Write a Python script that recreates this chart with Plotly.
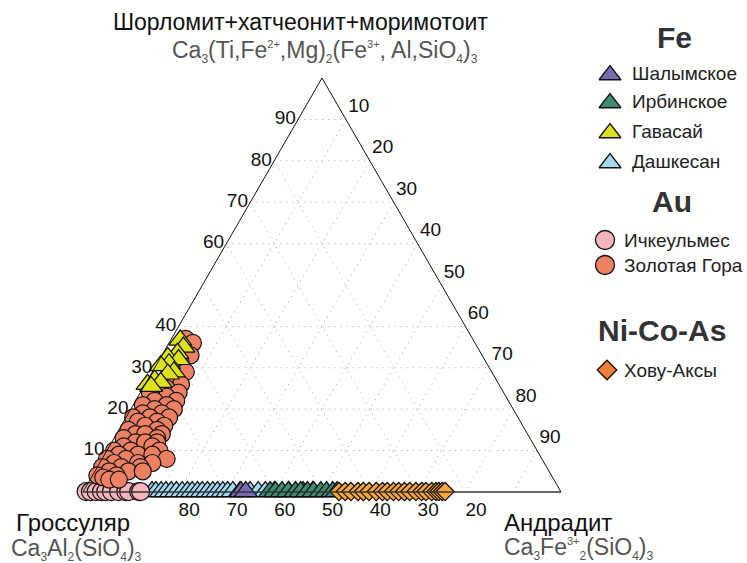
import plotly.graph_objects as go

# ---------------- data (percent: a = Шорломит..., c = Андрадит, b = Гроссуляр) ----------------
zg_a = [37, 36, 33, 31, 30, 29, 28, 27, 26, 26, 25, 24, 24, 23, 22, 22, 21, 21, 20, 20,
        19, 19, 18, 18, 18, 17, 17, 16, 16, 15, 15, 14, 14, 14, 13, 13, 12, 12, 12, 11,
        11, 10, 10, 10, 9, 9, 9, 8, 8, 8, 7, 7, 7, 6, 6, 6, 5, 5, 5, 4, 4, 3.5, 3, 3]
zg_c = [3, 5, 6, 5, 3, 7, 4, 6, 7.5, 3, 5, 8, 2, 6, 4, 8.5, 2, 7, 5, 9,
        3, 7, 1.5, 5, 9, 3, 7, 5, 9, 2, 8, 4, 6, 9.5, 2, 9, 5, 7, 9.5, 3,
        9, 1.5, 5, 11, 7, 3, 10, 1, 5, 13.5, 3, 8, 11, 1, 5, 9, 3, 7, 10, 1, 5, 2.5, 4, 6]

gav_a = [36.7, 35, 33.5, 32.5, 32, 31, 30.5, 29, 28.5, 27, 26.5, 26, 25.5]
gav_c = [2, 3.5, 3, 1.5, 4, 2.5, 1, 4.5, 3.5, 1.5, 3, 0.5, 1.5]

ich_c = [0.6, 1.5, 2.7, 3.8, 4.7, 5.9, 7.4, 8.9, 9.5, 11.6, 12]
dash_c = [14.4, 15.2, 16.3, 17.3, 18.4, 19.5, 20.7, 21.8, 22.8, 23.9, 24.9, 26.0, 27.1,
          28.1, 29.2, 30.2, 31.3, 32.8, 34.9, 36.6, 38.1]
shal_c = [33, 34, 40, 43, 46, 48]
irb_c = [39.1, 40.2, 41.6, 42.9, 44.4, 45.5, 46.9, 48.2, 49.7, 50.9, 52.2, 53.1]
hov_c = [53.5, 54.8, 56.0, 57.5, 58.6, 59.8, 61.3, 62.6, 63.6, 64.9, 66.0, 67.2, 68.3,
         69.6, 70.8, 71.7, 72.9, 73.8, 74.4, 75.1, 75.7]
edge_a = 0.1  # points lying on the grossular–andradite join

a_ticks = [10, 20, 30, 40, 60, 70, 80, 90]
b_ticks = [20, 30, 40, 50, 60, 70, 80]
c_ticks = [10, 20, 30, 40, 50, 60, 70, 80, 90]

colors = {"Шалымское": "#7A6AB2", "Ирбинское": "#3F8B74", "Гавасай": "#DDE21C",
          "Дашкесан": "#A2D9F2", "Ичкеульмес": "#F6B4BC", "Золотая Гора": "#EE8164",
          "Хову-Аксы": "#F9A63D"}
legend_colors = dict(colors, **{"Хову-Аксы": "#F07F3C"})

FONT = "Liberation Sans, Arial, sans-serif"
fig = go.Figure()


def tern(name, a, c, symbol, size):
    b = [100 - ai - ci for ai, ci in zip(a, c)]
    fig.add_trace(go.Scatterternary(
        a=a, b=b, c=c, mode="markers", name=name, showlegend=False, cliponaxis=False,
        marker=dict(symbol=symbol, size=size, color=colors[name],
                    line=dict(color="#111111", width=1.2))))


tern("Дашкесан", [edge_a] * len(dash_c), dash_c, "triangle-up", 20)
tern("Шалымское", [edge_a] * len(shal_c), shal_c, "triangle-up", 20)
tern("Ирбинское", [edge_a] * len(irb_c), irb_c, "triangle-up", 20)
tern("Хову-Аксы", [edge_a] * len(hov_c), hov_c, "diamond", 14)
tern("Ичкеульмес", [edge_a] * len(ich_c), ich_c, "circle", 18)
tern("Золотая Гора", zg_a, zg_c, "circle", 17)
tern("Гавасай", gav_a, gav_c, "triangle-up", 20)

axis_common = dict(linecolor="#111111", linewidth=1, showgrid=True, gridcolor="#a8a8a8",
                   griddash="1px,5px", gridwidth=1, ticks="",
                   tickfont=dict(size=19, color="#111111", family=FONT),
                   title=dict(text=""), tickmode="array")

NB = "\u2007"
fig.update_layout(
    width=747, height=563, margin=dict(l=0, r=0, t=0, b=0),
    paper_bgcolor="white", plot_bgcolor="white", showlegend=False,
    font=dict(family=FONT),
    ternary=dict(
        sum=100, bgcolor="white",
        domain=dict(x=[83 / 747, 561 / 747], y=[71 / 563, 485 / 563]),
        aaxis=dict(axis_common, tickvals=a_ticks),
        baxis=dict(axis_common, tickvals=b_ticks, linecolor="#333333", linewidth=1.5,
                   ticktext=[NB * 2 + str(v) for v in b_ticks]),
        caxis=dict(axis_common, tickvals=c_ticks,
                   ticktext=[f"{v}<br>{NB}" for v in c_ticks]),
    ),
    xaxis=dict(range=[0, 747], domain=[0, 1], visible=False, fixedrange=True),
    yaxis=dict(range=[563, 0], domain=[0, 1], visible=False, fixedrange=True),
)

# ---------------- custom legend ----------------
leg_rows = [("Шалымское", "triangle-up", 610, 73, 630),
            ("Ирбинское", "triangle-up", 610, 101, 630),
            ("Гавасай", "triangle-up", 610, 131, 630),
            ("Дашкесан", "triangle-up", 610, 161, 630),
            ("Ичкеульмес", "circle", 605, 240, 622),
            ("Золотая Гора", "circle", 605, 265, 622),
            ("Хову-Аксы", "diamond", 607, 370, 622)]
for name, sym, mx, my, tx in leg_rows:
    size = {"triangle-up": 19, "circle": 19, "diamond": 15}[sym]
    fig.add_trace(go.Scatter(x=[mx], y=[my + (2 if sym == "triangle-up" else 0)], mode="markers",
                             showlegend=False, hoverinfo="skip",
                             marker=dict(symbol=sym, size=size, color=legend_colors[name],
                                         line=dict(color="#111111", width=1.3))))
    fig.add_annotation(x=tx, y=my, xref="x", yref="y", text=name, showarrow=False,
                       xanchor="left", yanchor="middle", font=dict(size=19, color="#222222"))

for txt, x, y in [("Fe", 674, 37), ("Au", 672, 201), ("Ni-Co-As", 662, 330)]:
    fig.add_annotation(x=x, y=y, xref="x", yref="y", text=f"<b>{txt}</b>", showarrow=False,
                       xanchor="center", yanchor="middle", font=dict(size=30, color="#333333"))


# ---------------- vertex labels ----------------
def sb(t):
    return f"<sub><span style='font-size:12px'>{t}</span></sub>"


def sp(t):
    return f"<sup><span style='font-size:11px'>{t}</span></sup>"


lab = [
    ("Шорломит+хатчеонит+моримотоит", 300, 22, "center", 23, "#111111"),
    (f"Ca{sb(3)}(Ti,Fe{sp('2+')},Mg){sb(2)}(Fe{sp('3+')}, Al,SiO{sb(4)}){sb(3)}",
     325, 51, "center", 23, "#555555"),
    ("Гроссуляр", 14, 522, "left", 24, "#111111"),
    (f"Ca{sb(3)}Al{sb(2)}(SiO{sb(4)}){sb(3)}", 9, 549, "left", 23, "#555555"),
    ("Андрадит", 502, 522, "left", 24, "#111111"),
    (f"Ca{sb(3)}Fe{sp('3+')}{sb(2)}(SiO{sb(4)}){sb(3)}", 502, 548, "left", 23, "#555555"),
]
for txt, x, y, anc, sz, col in lab:
    fig.add_annotation(x=x, y=y, xref="x", yref="y", text=txt, showarrow=False,
                       xanchor=anc, yanchor="middle", font=dict(size=sz, color=col))

fig.write_html("out.html", config={"displayModeBar": False},
               post_script="document.body.style.margin='0px';")
